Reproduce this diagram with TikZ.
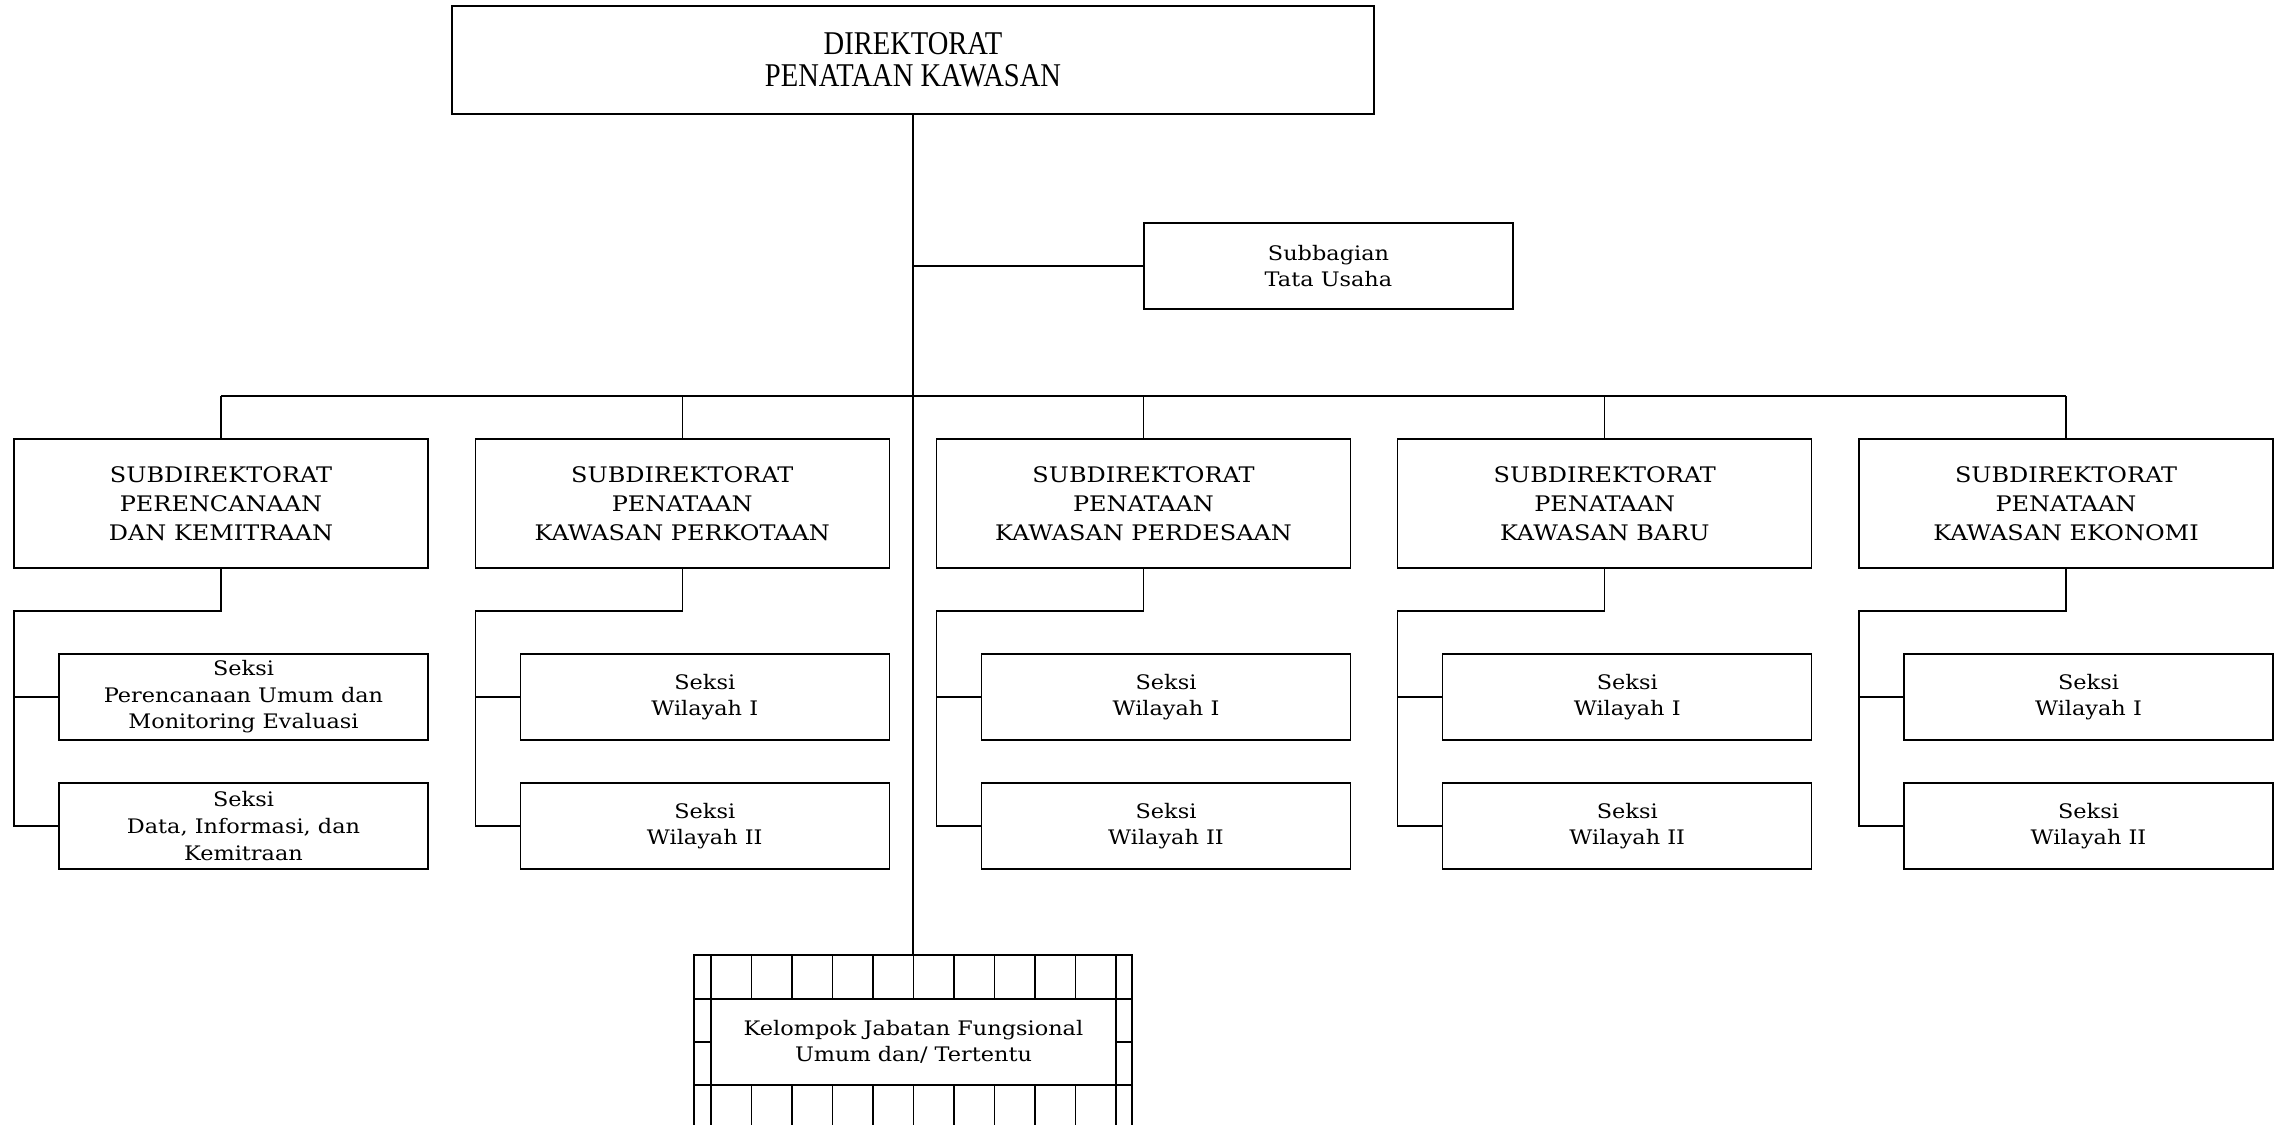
\documentclass[tikz,border=0pt]{standalone}
\usepackage{fontspec}
\newfontfamily\boxfont[FakeStretch=1.12]{DejaVu Serif}
\newfontfamily\headfont[FakeStretch=0.86]{Liberation Serif}
\begin{document}
\begin{tikzpicture}[x=0.5pt,y=-0.5pt,line width=0.6pt,
  box/.style={draw,rectangle,inner sep=0pt,outer sep=0pt,align=center},
  headbox/.style={box,line width=0.8pt,minimum width=461pt,minimum height=54pt,
    font=\headfont\fontsize{16.6}{16}\selectfont},
  subdir/.style={box,minimum width=207pt,minimum height=64.5pt,
    font=\boxfont\fontsize{10.7}{14.5}\selectfont},
  seksi/.style={box,minimum width=184.5pt,minimum height=43pt,
    font=\boxfont\fontsize{10}{13.3}\selectfont}]
\useasboundingbox (0,0) rectangle (2283,1125);

% top level
\node[headbox] (dir) at (913,60) {DIREKTORAT\\PENATAAN KAWASAN};
\node[seksi] (tu) at (1328.5,266) {Subbagian\\Tata Usaha};

% subdirectorates
\node[subdir] (sd1) at (221,503.5) {SUBDIREKTORAT\\PERENCANAAN\\DAN KEMITRAAN};
\node[subdir] (sd2) at (682.25,503.5) {SUBDIREKTORAT\\PENATAAN\\KAWASAN PERKOTAAN};
\node[subdir] (sd3) at (1143.5,503.5) {SUBDIREKTORAT\\PENATAAN\\KAWASAN PERDESAAN};
\node[subdir] (sd4) at (1604.75,503.5) {SUBDIREKTORAT\\PENATAAN\\KAWASAN BARU};
\node[subdir] (sd5) at (2066,503.5) {SUBDIREKTORAT\\PENATAAN\\KAWASAN EKONOMI};

% sections
\node[seksi] (s1a) at (243.5,697) {Seksi\\Perencanaan Umum dan\\Monitoring Evaluasi};
\node[seksi] (s1b) at (243.5,826) {Seksi\\Data, Informasi, dan\\Kemitraan};
\node[seksi] (s2a) at (704.75,697) {Seksi\\Wilayah I};
\node[seksi] (s2b) at (704.75,826) {Seksi\\Wilayah II};
\node[seksi] (s3a) at (1166,697) {Seksi\\Wilayah I};
\node[seksi] (s3b) at (1166,826) {Seksi\\Wilayah II};
\node[seksi] (s4a) at (1627.25,697) {Seksi\\Wilayah I};
\node[seksi] (s4b) at (1627.25,826) {Seksi\\Wilayah II};
\node[seksi] (s5a) at (2088.5,697) {Seksi\\Wilayah I};
\node[seksi] (s5b) at (2088.5,826) {Seksi\\Wilayah II};

% functional group
\node[seksi,minimum width=202.5pt] (jf) at (913.5,1042) {Kelompok Jabatan Fungsional\\Umum dan/ Tertentu};

\coordinate (bus) at (0,396);
\coordinate (gridtop) at (0,955);

% trunk and branches
\draw (dir.south) -- (dir.south |- gridtop);
\draw (tu.west) -- (tu.west -| dir.south);
\draw (sd1.north |- bus) -- (sd5.north |- bus);
\foreach \s in {sd1,sd2,sd3,sd4,sd5}
  \draw (\s.north) -- (\s.north |- bus);

% section links
\foreach \s/\a/\b in {sd1/s1a/s1b,sd2/s2a/s2b,sd3/s3a/s3b,sd4/s4a/s4b,sd5/s5a/s5b}{
  \draw (\s.south) -- ++(0,43) -| (\b.west -| \s.west) -- (\b.west);
  \draw (\a.west -| \s.west) -- (\a.west);
}

% grid frame around the functional group
\draw (694,1130) -- (694,955) -- (1132,955) -- (1132,1130);
\draw (694,999) -- (1132,999);
\draw (694,1085) -- (1132,1085);
\draw (694,1042) -- (jf.west);
\draw (jf.east) -- (1132,1042);
\foreach \k in {0,...,10}{
  \draw (711+40.5*\k,955) -- (711+40.5*\k,999);
  \draw (711+40.5*\k,1085) -- (711+40.5*\k,1130);
}
\end{tikzpicture}
\end{document}
